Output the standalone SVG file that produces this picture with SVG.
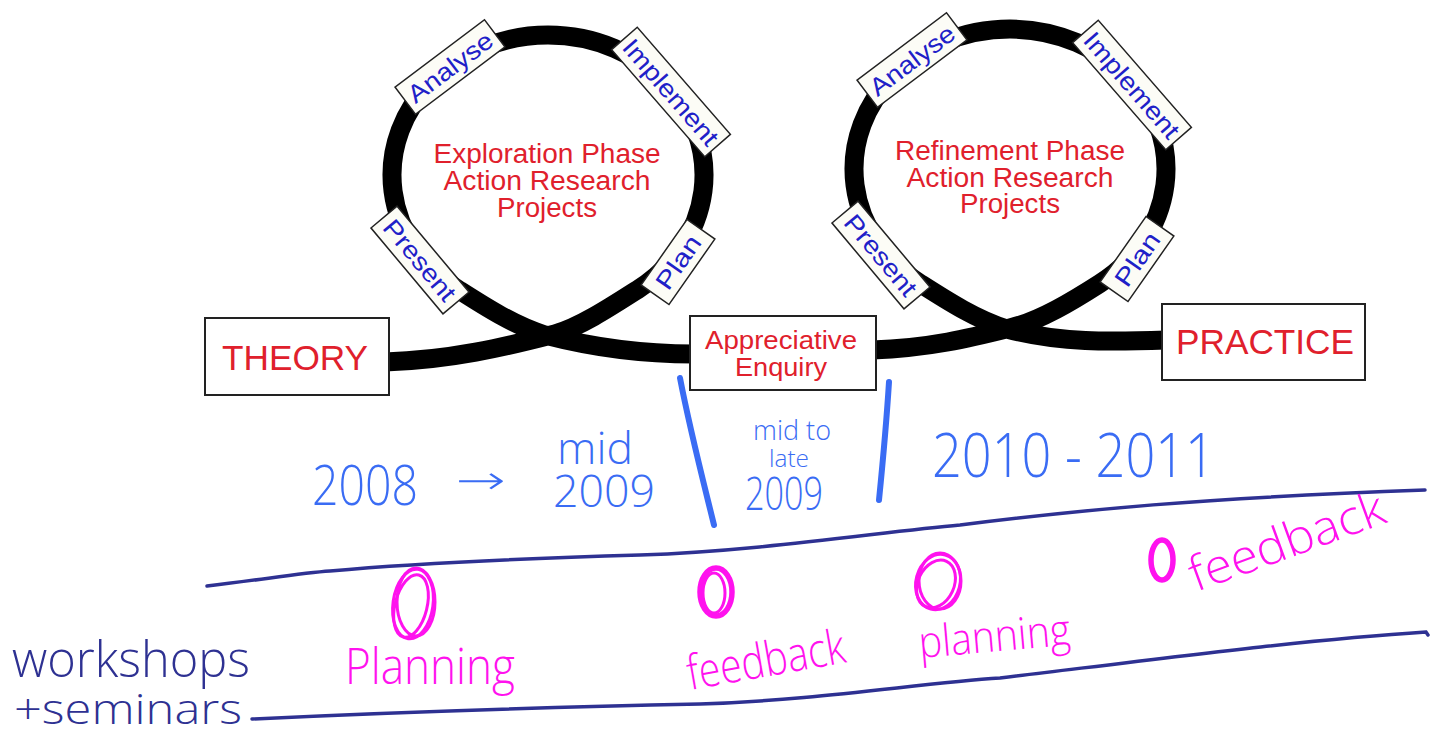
<svg xmlns="http://www.w3.org/2000/svg" width="1442" height="739" viewBox="0 0 1442 739">
<style>
.loop{fill:none;stroke:#000;stroke-width:19}
.box{fill:#fff;stroke:#222;stroke-width:2}
.lbl{fill:#fcfcf6;stroke:#222;stroke-width:1.5}
.red{fill:#e0202c;font-family:"Liberation Sans",Arial,sans-serif}
.blu{fill:#2020c8;font-family:"Liberation Sans",Arial,sans-serif;font-size:25px}
.hw{font-family:"Open Sans","DejaVu Sans",sans-serif;font-weight:300}
.hb{fill:#3a6cf4}
.hn{fill:#2e3192}
.hp{fill:#ff12ee}
.nav{fill:none;stroke:#2e3192;stroke-width:3.5;stroke-linecap:round}
.div{fill:none;stroke:#3a6cf4;stroke-width:6;stroke-linecap:round}
.po{fill:none;stroke:#ff12ee;stroke-width:3}
.pob{fill:none;stroke:#ff12ee;stroke-width:5.5}
</style>
<g id="connectors">
<path class="loop" d="M 385 362 C 450 360, 505 347, 555 334 C 580 327, 612 306, 637.5 289.7 A 156 140 0 1 0 458.5 289.7 C 484 306, 515 326, 545 335 C 595 348, 640 354, 694 354"/>
<path class="loop" d="M 872 350 C 930 348, 970 338, 1010 328 C 1040 321, 1074 300, 1099.5 283.7 A 156 140 0 1 0 920.5 283.7 C 946 300, 977 320, 1007 329 C 1060 343, 1110 342, 1166 340"/>
</g>
<g id="exploration">
<text class="red" font-size="27" text-anchor="middle" x="547" y="163" textLength="227" lengthAdjust="spacingAndGlyphs">Exploration Phase</text>
<text class="red" font-size="27" text-anchor="middle" x="547" y="190" textLength="207" lengthAdjust="spacingAndGlyphs">Action Research</text>
<text class="red" font-size="27" text-anchor="middle" x="547" y="217" textLength="100" lengthAdjust="spacingAndGlyphs">Projects</text>
</g>
<g id="refinement">
<text class="red" font-size="27" text-anchor="middle" x="1010" y="160" textLength="230" lengthAdjust="spacingAndGlyphs">Refinement Phase</text>
<text class="red" font-size="27" text-anchor="middle" x="1010" y="187" textLength="207" lengthAdjust="spacingAndGlyphs">Action Research</text>
<text class="red" font-size="27" text-anchor="middle" x="1010" y="213" textLength="100" lengthAdjust="spacingAndGlyphs">Projects</text>
</g>
<g id="l-analyse" transform="translate(450,67) rotate(-37)"><rect class="lbl" x="-56" y="-17" width="112" height="34"/><text class="blu" text-anchor="middle" y="9" textLength="100" lengthAdjust="spacingAndGlyphs">Analyse</text></g>
<g id="l-implement" transform="translate(671,92) rotate(49)"><rect class="lbl" x="-71" y="-17" width="142" height="34"/><text class="blu" text-anchor="middle" y="9" textLength="132" lengthAdjust="spacingAndGlyphs">Implement</text></g>
<g id="l-present" transform="translate(420,260) rotate(50)"><rect class="lbl" x="-56" y="-17" width="112" height="34"/><text class="blu" text-anchor="middle" y="9" textLength="98" lengthAdjust="spacingAndGlyphs">Present</text></g>
<g id="l-plan" transform="translate(678,262) rotate(-55)"><rect class="lbl" x="-40" y="-17" width="80" height="34"/><text class="blu" text-anchor="middle" y="9" textLength="60" lengthAdjust="spacingAndGlyphs">Plan</text></g>
<g id="r-analyse" transform="translate(912,60) rotate(-37)"><rect class="lbl" x="-56" y="-17" width="112" height="34"/><text class="blu" text-anchor="middle" y="9" textLength="100" lengthAdjust="spacingAndGlyphs">Analyse</text></g>
<g id="r-implement" transform="translate(1132,85) rotate(49)"><rect class="lbl" x="-71" y="-17" width="142" height="34"/><text class="blu" text-anchor="middle" y="9" textLength="132" lengthAdjust="spacingAndGlyphs">Implement</text></g>
<g id="r-present" transform="translate(881,255) rotate(50)"><rect class="lbl" x="-56" y="-17" width="112" height="34"/><text class="blu" text-anchor="middle" y="9" textLength="98" lengthAdjust="spacingAndGlyphs">Present</text></g>
<g id="r-plan" transform="translate(1137,259) rotate(-55)"><rect class="lbl" x="-40" y="-17" width="80" height="34"/><text class="blu" text-anchor="middle" y="9" textLength="60" lengthAdjust="spacingAndGlyphs">Plan</text></g>
<g id="theory"><rect class="box" x="205" y="318" width="184" height="77"/><text class="red" font-size="35" text-anchor="middle" x="295" y="370" textLength="146" lengthAdjust="spacingAndGlyphs">THEORY</text></g>
<g id="appreciative"><rect class="box" x="690" y="316" width="186" height="74"/><text class="red" font-size="25" text-anchor="middle" x="781" y="349" textLength="152" lengthAdjust="spacingAndGlyphs">Appreciative</text><text class="red" font-size="25" text-anchor="middle" x="781" y="376" textLength="92" lengthAdjust="spacingAndGlyphs">Enquiry</text></g>
<g id="practice"><rect class="box" x="1162" y="304" width="203" height="76"/><text class="red" font-size="35" text-anchor="middle" x="1265" y="354" textLength="178" lengthAdjust="spacingAndGlyphs">PRACTICE</text></g>
<g id="timeline">
<path class="div" d="M 680 378 C 690 430, 701 472, 714 525"/>
<path class="div" d="M 889 382 C 886 430, 882 470, 879 500"/>
<text class="hw hb" font-size="56" x="312" y="505" textLength="106" lengthAdjust="spacingAndGlyphs">2008</text>
<text class="hw hb" font-size="40" x="456" y="494" textLength="50" lengthAdjust="spacingAndGlyphs">→</text>
<text class="hw hb" font-size="44" x="557" y="464" textLength="76" lengthAdjust="spacingAndGlyphs">mid</text>
<text class="hw hb" font-size="44" x="553" y="507" textLength="102" lengthAdjust="spacingAndGlyphs">2009</text>
<text class="hw hb" font-size="27" x="753" y="440" textLength="78" lengthAdjust="spacingAndGlyphs">mid to</text>
<text class="hw hb" font-size="24" x="769" y="467" textLength="40" lengthAdjust="spacingAndGlyphs">late</text>
<text class="hw hb" font-size="46" x="745" y="510" textLength="78" lengthAdjust="spacingAndGlyphs">2009</text>
<text class="hw hb" font-size="60" x="932" y="477" textLength="283" lengthAdjust="spacingAndGlyphs">2010 - 2011</text>
</g>
<g id="workshops">
<path class="nav" d="M 207 586 C 260 580, 300 573, 330 571 C 420 563, 540 558, 640 555 C 760 551, 880 532, 960 525 C 1080 510, 1200 498, 1425 490"/>
<path class="nav" d="M 252 719 C 400 712, 560 707, 700 704 C 820 700, 920 683, 1000 678 C 1150 660, 1300 640, 1426 632 l 2 3"/>
<text class="hw hn" font-size="50" x="12" y="677" textLength="238" lengthAdjust="spacingAndGlyphs">workshops</text>
<text class="hw hn" font-size="42" x="14" y="724" textLength="228" lengthAdjust="spacingAndGlyphs">+seminars</text>
</g>
<g id="events">
<ellipse class="po" cx="413" cy="604" rx="20" ry="35" transform="rotate(8 413 604)"/>
<ellipse class="po" cx="411" cy="606" rx="16" ry="32" transform="rotate(14 411 606)"/>
<ellipse class="po" cx="416" cy="602" rx="19" ry="34"/>
<ellipse class="pob" cx="716" cy="592" rx="16" ry="24"/>
<ellipse class="po" cx="714" cy="593" rx="11" ry="20"/>
<ellipse class="po" cx="938" cy="582" rx="22" ry="28" transform="rotate(15 938 582)"/>
<ellipse class="po" cx="936" cy="584" rx="18" ry="25" transform="rotate(25 936 584)"/>
<ellipse class="po" cx="940" cy="581" rx="21" ry="28"/>
<ellipse class="pob" cx="1162" cy="560" rx="11" ry="20"/>
<text class="hw hp" font-size="50" x="345" y="684" textLength="170" lengthAdjust="spacingAndGlyphs">Planning</text>
<text class="hw hp" font-size="48" x="690" y="690" textLength="160" lengthAdjust="spacingAndGlyphs" transform="rotate(-10 690 690)">feedback</text>
<text class="hw hp" font-size="44" x="920" y="658" textLength="152" lengthAdjust="spacingAndGlyphs" transform="rotate(-5 920 658)">planning</text>
<text class="hw hp" font-size="48" x="1196" y="592" textLength="205" lengthAdjust="spacingAndGlyphs" transform="rotate(-20 1196 592)">feedback</text>
</g>
</svg>
